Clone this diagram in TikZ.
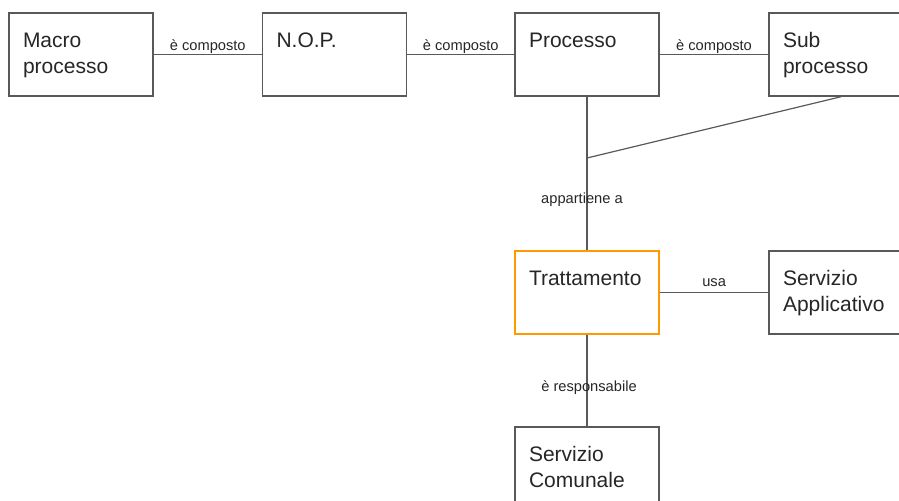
\documentclass[tikz,border=0pt]{standalone}
\usepackage{fontspec}
\setmainfont{Liberation Sans}
\definecolor{linegray}{HTML}{595959}
\definecolor{txtgray}{HTML}{262626}
\definecolor{selorange}{HTML}{FF9900}
\tikzset{
  entity/.style={draw=linegray, line width=1.1pt, inner xsep=10.5pt, inner ysep=0pt,
    text width=87pt, align=left, text height=25.5pt, text depth=36.75pt,
    font=\fontsize{15.75}{19.5}\selectfont, text=txtgray},
  selected/.style={entity, draw=selorange, line width=1.5pt},
  rel/.style={font=\fontsize{11}{12}\selectfont, text=txtgray, inner sep=1pt},
  link/.style={draw=linegray, line width=0.9pt}
}
\begin{document}
\begin{tikzpicture}[x=0.75pt,y=-0.75pt]
            \useasboundingbox (0,0) rectangle (899,500);
            % top row
            \node[entity] (macro) at (81,54.5) {Macro\\processo};
            \node[entity] (nop) at (334.5,54.5) {N.O.P.};
            \node[entity] (proc) at (587,54.5) {Processo};
            \node[entity] (sub) at (841,54.5) {Sub\\processo};
            % middle and bottom
            \node[selected] (tratt) at (587,292.5) {Trattamento};
            \node[entity] (appl) at (841,292.5) {Servizio\\Applicativo};
            \node[entity] (comun) at (587,468.5) {Servizio\\Comunale};
            \coordinate (join) at (587,158);
            % relations
            \draw[link] (macro) -- node[rel, above, inner sep=0pt] (r1) {è composto} (nop);
            \draw[link] (nop) -- node[rel, above, inner sep=0pt] (r2) {è composto} (proc);
            \draw[link] (proc) -- node[rel, above, inner sep=0pt] (r3) {è composto} (sub);
            \draw[link] (sub.south) -- (join);
            \draw[link] (proc) -- node[rel, pos=0.67, xshift=-3.75pt] (r4) {appartiene a} (tratt);
            \draw[link] (tratt) -- node[rel, above, yshift=3pt] (r5) {usa} (appl);
            \draw[link] (tratt) -- node[rel, pos=0.58, xshift=1.5pt] (r6) {è responsabile} (comun);
\end{tikzpicture}
\end{document}
